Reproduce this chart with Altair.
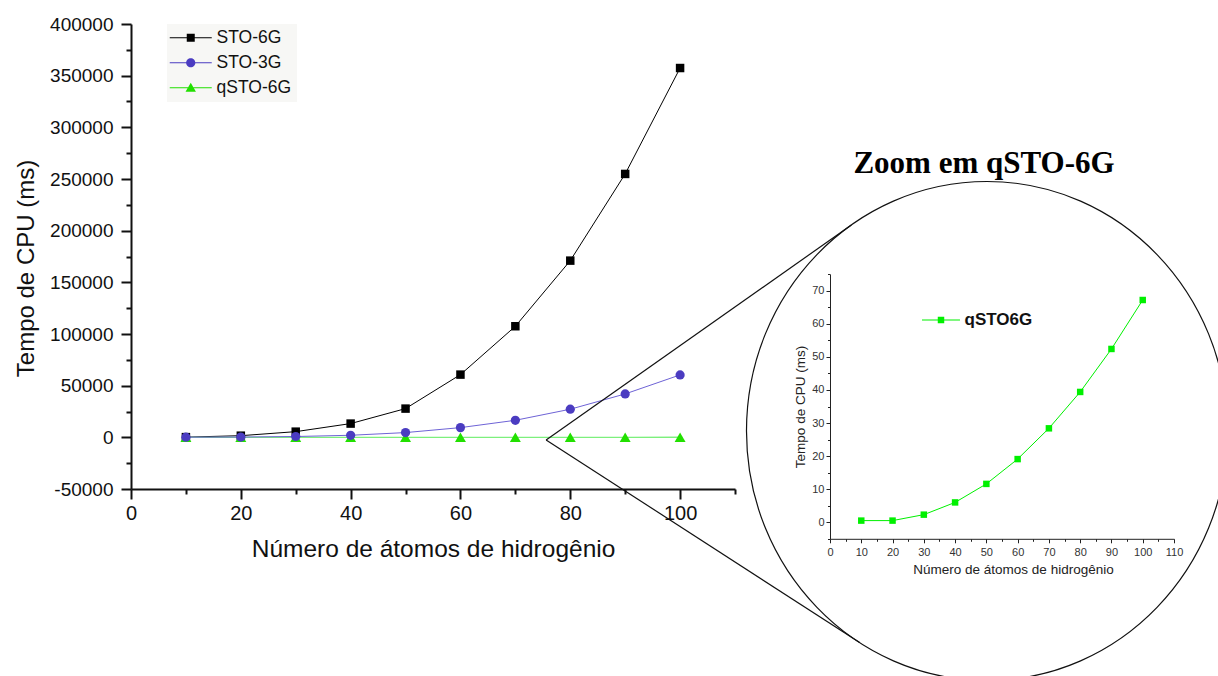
import altair as alt
import pandas as pd

# ---------------- data ----------------
atoms = [10, 20, 30, 40, 50, 60, 70, 80, 90, 100]
sto6g = [200, 1600, 5500, 13300, 27800, 60700, 107500, 171000, 254900, 357400]
sto3g = [100, 300, 800, 2000, 4600, 9400, 16500, 27200, 42000, 60400]
qsto6g = [0.5, 0.5, 2.3, 6.0, 11.6, 19.1, 28.4, 39.4, 52.4, 67.2]

series_names = ["STO-6G", "STO-3G", "qSTO-6G"]
inset_names = ["qSTO6G"]

main_x_ticks = [0, 20, 40, 60, 80, 100]
main_x_minor = [10, 30, 50, 70, 90, 110]
main_y_ticks = list(range(-50000, 400001, 50000))
main_y_minor = list(range(-25000, 400000, 50000))
inset_x_ticks = list(range(0, 111, 10))
inset_x_minor = list(range(5, 110, 10))
inset_y_ticks = list(range(0, 71, 10))
inset_y_minor = list(range(-5, 76, 10))

# magnifier connectors (main-chart data units): zoom spot -> tangent points of the lens
conn_x_start = [75.6, 75.6]
conn_y_start = [-2500, -2500]
conn_x_end = [131.2, 132.7]
conn_y_end = [205500, -198600]
# magnifier lens centre (inset data units)
lens_x = [50.2]
lens_y = [27.6]

zoom_title = ["Zoom em qSTO-6G"]

# ---------------- styles ----------------
FONT = "Liberation Sans"
INK = "#111111"
col_6g = "#000000"
col_3g = "#4b3cc1"
col_3g_line = "#6e63d6"
col_q = "#22e000"
col_q_line = "#7df07d"
col_inset = "#00f000"
NBSP3 = "\u00a0\u00a0\u00a0"

main_df = pd.DataFrame({
    "atoms": atoms * 3,
    "tempo": sto6g + sto3g + qsto6g,
    "series": ["STO-6G"] * 10 + ["STO-3G"] * 10 + ["qSTO-6G"] * 10,
})
inset_df = pd.DataFrame({"atoms": atoms, "ms": qsto6g})
conn_df = pd.DataFrame({"x0": conn_x_start, "y0": conn_y_start,
                        "x1": conn_x_end, "y1": conn_y_end})
lens_df = pd.DataFrame({"cx": lens_x, "cy": lens_y})
title_df = pd.DataFrame({"label": zoom_title})
legend_df = pd.DataFrame({"series": series_names})
inset_legend_df = pd.DataFrame({"inset": inset_names})

main_xscale = alt.Scale(domain=[0, 110], nice=False, zero=False)
main_yscale = alt.Scale(domain=[-50000, 400000], nice=False, zero=False)
inset_xscale = alt.Scale(domain=[0, 110], range=[699, 1043], nice=False, zero=False)
inset_yscale = alt.Scale(domain=[-5, 75], range=[514.8, 250.2], nice=False, zero=False)

main_x_axis = alt.Axis(values=main_x_ticks, orient="bottom", title="Número de átomos de hidrogênio",
                       grid=False, tickSize=10, tickWidth=2, tickColor=INK, domainWidth=2,
                       domainColor=INK, labelFontSize=20, labelFont=FONT, labelColor=INK,
                       labelPadding=4, labelFlush=False, labelExpr="'' + datum.value",
                       titleFont=FONT, titleFontSize=24.5, titleFontWeight="normal",
                       titleColor=INK, titlePadding=14)
main_y_axis = alt.Axis(values=main_y_ticks, orient="left", title="Tempo de CPU (ms)",
                       grid=False, tickSize=10, tickWidth=2, tickColor=INK, domainWidth=2,
                       domainColor=INK, labelFontSize=19, labelFont=FONT, labelColor=INK,
                       labelPadding=8, labelExpr="'' + datum.value",
                       titleFont=FONT, titleFontSize=24, titleFontWeight="normal",
                       titleColor=INK, titlePadding=11, titleY=244)
main_x_minor_axis = alt.Axis(values=main_x_minor, orient="bottom", title=None, labels=False,
                             domain=False, grid=False, tickSize=5, tickWidth=2, tickColor=INK)
main_y_minor_axis = alt.Axis(values=main_y_minor, orient="left", title=None, labels=False,
                             domain=False, grid=False, tickSize=5, tickWidth=2, tickColor=INK)

inset_x_axis = alt.Axis(values=inset_x_ticks, orient="bottom", offset=49.8,
                        title="Número de átomos de hidrogênio", grid=False, tickSize=4,
                        tickWidth=1, tickColor="#222", domainWidth=1, domainColor="#222",
                        labelFontSize=11, labelFont=FONT, labelColor="#333", labelPadding=4,
                        labelFlush=False, labelExpr="'' + datum.value",
                        titleFont=FONT, titleFontSize=13.5, titleFontWeight="normal",
                        titleColor="#222", titlePadding=5, titleX=882)
inset_y_axis = alt.Axis(values=inset_y_ticks, orient="left", offset=-699,
                        title="Tempo de CPU (ms)", grid=False, tickSize=4,
                        tickWidth=1, tickColor="#222", domainWidth=1, domainColor="#222",
                        labelFontSize=11, labelFont=FONT, labelColor="#333", labelPadding=2,
                        labelExpr="'' + datum.value",
                        titleFont=FONT, titleFontSize=13.5, titleFontWeight="normal",
                        titleColor="#222", titlePadding=4)
inset_x_minor_axis = alt.Axis(values=inset_x_minor, orient="bottom", offset=49.8, title=None,
                              labels=False, domain=False, grid=False, tickSize=2.5,
                              tickWidth=1, tickColor="#222")
inset_y_minor_axis = alt.Axis(values=inset_y_minor, orient="left", offset=-699, title=None,
                              labels=False, domain=False, grid=False, tickSize=2.5,
                              tickWidth=1, tickColor="#222")

mx = alt.X("atoms:Q", scale=main_xscale, axis=main_x_axis)
my = alt.Y("tempo:Q", scale=main_yscale, axis=main_y_axis)

base = alt.Chart(main_df)


def line(name, color, width=1.0):
    return base.transform_filter(alt.datum.series == name).mark_line(
        color=color, strokeWidth=width).encode(x=mx, y=my)


def pts(name, shape, color, size):
    return base.transform_filter(alt.datum.series == name).mark_point(
        shape=shape, filled=True, size=size, color=color, opacity=1).encode(x=mx, y=my)


main_group = alt.layer(
    line("STO-6G", col_6g),
    line("qSTO-6G", col_q_line, 1.3),
    line("STO-3G", col_3g_line),
    pts("STO-6G", "square", col_6g, 72),
    pts("qSTO-6G", "triangle-up", col_q, 120),
    pts("STO-3G", "circle", col_3g, 85),
)

conn_group = alt.Chart(conn_df).mark_rule(color=INK, strokeWidth=1.2).encode(
    x=alt.X("x0:Q", scale=main_xscale, axis=main_x_minor_axis),
    y=alt.Y("y0:Q", scale=main_yscale, axis=main_y_minor_axis),
    x2="x1:Q", y2="y1:Q",
)

ix = alt.X("atoms:Q", scale=inset_xscale, axis=inset_x_axis)
iy = alt.Y("ms:Q", scale=inset_yscale, axis=inset_y_axis)
inset_group = alt.layer(
    alt.Chart(inset_df).mark_line(color=col_inset, strokeWidth=1).encode(x=ix, y=iy),
    alt.Chart(inset_df).mark_point(shape="square", filled=True, size=42, color=col_inset,
                                   opacity=1).encode(x=ix, y=iy),
)

LENS = "M-1,0A1,1.0374,0,1,1,1,0A1,1.0374,0,1,1,-1,0Z"
lens_group = alt.Chart(lens_df).mark_point(shape=LENS, size=481 ** 2, filled=False, color=INK,
                                           strokeWidth=1.2, opacity=1).encode(
    x=alt.X("cx:Q", scale=inset_xscale, axis=inset_x_minor_axis),
    y=alt.Y("cy:Q", scale=inset_yscale, axis=inset_y_minor_axis),
)

title_text = alt.Chart(title_df).mark_text(font="Liberation Serif", fontSize=31, fontWeight="bold",
                                           align="center", baseline="alphabetic",
                                           color="#000").encode(
    text="label:N", x=alt.value(853), y=alt.value(149.3))

# legend symbols: a 1px line with the marker on it
LINE = "M-5.25,-0.125H5.25V0.125H-5.25Z"
legend_paths = [
    LINE + "M-1,-1H1V1H-1Z",
    LINE + "M-1.15,0A1.15,1.15,0,1,1,1.15,0A1.15,1.15,0,1,1,-1.15,0Z",
    LINE + "M0,-1.25L1.3,1H-1.3Z",
]
main_legend = alt.Legend(orient="none", legendX=36, legendY=0, title=None, fillColor="#f7f7f5",
                         padding=5, rowPadding=6, labelFontSize=17.5, labelFont=FONT,
                         labelColor=INK, symbolSize=64, symbolOffset=10, labelOffset=17,
                         symbolStrokeWidth=0, labelExpr="datum.label + '" + NBSP3 + "'")
legend_main = alt.Chart(legend_df).transform_filter("false").mark_point(
    filled=True, size=64, opacity=1).encode(
    color=alt.Color("series:N", scale=alt.Scale(domain=series_names,
                                                range=[col_6g, col_3g, col_q]),
                    legend=main_legend),
    shape=alt.Shape("series:N", scale=alt.Scale(domain=series_names, range=legend_paths),
                    legend=main_legend),
)

INSET_PATH = "M-5.86,-0.154H5.86V0.154H-5.86ZM-1,-1H1V1H-1Z"
inset_legend = alt.Legend(orient="none", legendX=801.5, legendY=287.5, title=None, padding=0,
                          labelFontSize=17, labelFontWeight="bold", labelFont=FONT,
                          labelColor=INK, symbolSize=42, symbolOffset=0, labelOffset=15,
                          symbolStrokeWidth=0)
legend_inset = alt.Chart(inset_legend_df).transform_filter("false").mark_point(
    filled=True, size=42, opacity=1).encode(
    color=alt.Color("inset:N", scale=alt.Scale(domain=inset_names, range=[col_inset]),
                    legend=inset_legend),
    shape=alt.Shape("inset:N", scale=alt.Scale(domain=inset_names, range=[INSET_PATH]),
                    legend=inset_legend),
)

chart = alt.layer(
    main_group, conn_group, inset_group, lens_group, title_text, legend_main, legend_inset
).resolve_scale(
    x="independent", y="independent", color="independent", shape="independent"
).properties(
    width=604, height=465,
    autosize=alt.AutoSizeParams(type="none"),
    padding={"left": 131, "top": 24, "right": 483, "bottom": 187},
).configure_view(strokeWidth=0)

chart.save("out.html", embed_options={"renderer": "svg", "actions": False})
